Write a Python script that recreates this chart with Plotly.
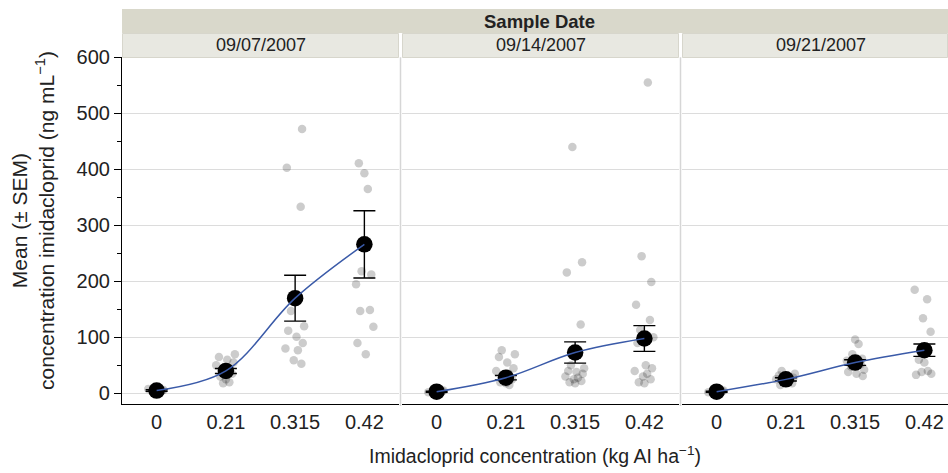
import plotly.graph_objects as go

# ---------------- data ----------------
doses = ["0", "0.21", "0.315", "0.42"]
dates = ["09/07/2007", "09/14/2007", "09/21/2007"]

mean_0907 = [5, 40, 170, 266]
sem_0907 = [1.5, 4.5, 41, 60]
mean_0914 = [3, 28, 73, 98]
sem_0914 = [1, 4, 19, 23]
mean_0921 = [3, 25, 55, 77]
sem_0921 = [1, 3, 5, 11]

raw_0907 = [
    [2, 4, 6, 8, 5, 3],
    [70, 65, 60, 55, 50, 45, 40, 35, 30, 25, 20, 18],
    [472, 403, 333, 147, 120, 112, 101, 90, 80, 77, 59, 53],
    [411, 393, 365, 218, 212, 195, 149, 147, 119, 90, 70],
]
raw_0914 = [
    [1, 3, 5, 2, 4],
    [77, 70, 65, 55, 45, 40, 35, 30, 25, 20, 18, 15],
    [440, 234, 216, 123, 50, 45, 40, 38, 35, 30, 28, 25, 22, 20, 18],
    [555, 245, 199, 158, 131, 113, 100, 90, 50, 45, 40, 35, 30, 25, 20, 18],
]
raw_0921 = [
    [1, 3, 5, 2, 4],
    [40, 35, 32, 30, 28, 25, 22, 20, 18, 15],
    [96, 88, 70, 62, 58, 52, 48, 42, 38, 35, 31],
    [185, 168, 134, 110, 60, 55, 40, 38, 35, 33],
]

# horizontal jitter (category units)
jitter = [0.05, -0.04, 0.1, -0.12, 0.08, -0.06, 0.13, -0.1, 0.02, 0.11, -0.14, 0.04,
          -0.02, 0.09, -0.08, 0.0]

means = [mean_0907, mean_0914, mean_0921]
sems = [sem_0907, sem_0914, sem_0921]
raws = [raw_0907, raw_0914, raw_0921]

# ---------------- layout helpers ----------------
W, H = 948, 473
FONT = "Liberation Sans, Arial, Helvetica, sans-serif"
TXT = "#222222"
TICK_SIZE = 20
TITLE_SIZE = 19.5


def px(x):
    return x / W


def py(y):
    return 1 - y / H


panel_px = [(122, 399), (402, 679), (682, 948)]
unit = 69.25
plot_top, plot_bot = 57.3, 404

fig = go.Figure()

for i in range(3):
    xa = "x" if i == 0 else f"x{i+1}"
    ya = "y" if i == 0 else f"y{i+1}"
    xs, ys = [], []
    k = 0
    for d, vals in enumerate(raws[i]):
        for v in vals:
            xs.append(d + jitter[k % len(jitter)])
            ys.append(v)
            k += 1
    fig.add_trace(go.Scatter(
        x=xs, y=ys, mode="markers", xaxis=xa, yaxis=ya,
        marker=dict(size=8.5, color="rgba(0,0,0,0.2)", line=dict(width=0)),
        hoverinfo="skip", showlegend=False))
    fig.add_trace(go.Scatter(
        x=list(range(4)), y=means[i], mode="markers", xaxis=xa, yaxis=ya,
        marker=dict(size=16.5, color="black"),
        error_y=dict(type="data", array=sems[i], color="black", thickness=1.4, width=11),
        showlegend=False))
    fig.add_trace(go.Scatter(
        x=list(range(4)), y=means[i], mode="lines", xaxis=xa, yaxis=ya,
        line=dict(color="#3a5aa8", width=1.5, shape="spline", smoothing=1.0),
        hoverinfo="skip", showlegend=False))

layout = dict(
    width=W, height=H, margin=dict(l=0, r=0, t=0, b=0, autoexpand=False),
    paper_bgcolor="white", plot_bgcolor="white",
    font=dict(family=FONT, size=18, color=TXT),
    showlegend=False,
)

ydom = [py(plot_bot), py(plot_top)]
for i in range(3):
    x0, x1 = panel_px[i]
    width_units = (x1 - x0) / unit
    xr = [-0.5, -0.5 + width_units]
    xkey = "xaxis" if i == 0 else f"xaxis{i+1}"
    ykey = "yaxis" if i == 0 else f"yaxis{i+1}"
    layout[xkey] = dict(
        domain=[px(x0), px(x1)], range=xr, anchor="y" if i == 0 else f"y{i+1}",
        tickmode="array", tickvals=list(range(4)), ticktext=doses,
        showline=True, linecolor="black", linewidth=1.2, ticks="",
        showgrid=False, zeroline=False, automargin=False,
        tickfont=dict(size=TICK_SIZE, color=TXT, family=FONT),
    )
    yd = dict(
        domain=ydom, range=[-19, 600], anchor="x" if i == 0 else f"x{i+1}",
        tickmode="array", tickvals=[0, 100, 200, 300, 400, 500, 600],
        showgrid=True, gridcolor="#dcdcdc", gridwidth=1.3, zeroline=False,
        automargin=False,
    )
    if i == 0:
        yd.update(showline=True, linecolor="black", linewidth=1.2,
                  ticks="outside", ticklen=7, tickcolor="black", tickwidth=1,
                  tickfont=dict(size=TICK_SIZE, color=TXT, family=FONT),
                  minor=dict(dtick=50, tick0=0, ticks="outside", ticklen=4,
                             tickcolor="black", tickwidth=1, showgrid=False))
    else:
        yd.update(showline=False, showticklabels=False, ticks="", matches="y")
    layout[ykey] = yd

fig.update_layout(**layout)

shapes = []
for xsep in [400.5, 680.5]:
    shapes.append(dict(type="line", xref="paper", yref="paper",
                       x0=px(xsep), x1=px(xsep), y0=py(406), y1=py(plot_top),
                       line=dict(color="#d6d6d6", width=1.5)))
shapes.append(dict(type="rect", xref="paper", yref="paper",
                   x0=px(122), x1=px(948), y0=py(33), y1=py(9),
                   fillcolor="#d9d8cb", line=dict(width=0), layer="above"))
for (x0, x1) in panel_px:
    shapes.append(dict(type="rect", xref="paper", yref="paper",
                       x0=px(x0 + 0.5), x1=px(x1 - 0.5), y0=py(57.5), y1=py(33.5),
                       fillcolor="#e8e8e1", line=dict(color="#d7d6cc", width=1),
                       layer="above"))
fig.update_layout(shapes=shapes)

ann = []
ann.append(dict(text="<b>Sample Date</b>", x=px(539), y=py(21), xref="paper", yref="paper",
                showarrow=False, xanchor="center", yanchor="middle",
                font=dict(size=18.5, color=TXT, family=FONT)))
for (x0, x1), d in zip(panel_px, dates):
    cx = (x0 + x1) / 2 if x1 < 948 else x0 + 277 / 2
    ann.append(dict(text=d, x=px(cx), y=py(45.5), xref="paper", yref="paper",
                    showarrow=False, xanchor="center", yanchor="middle",
                    font=dict(size=18, color=TXT, family=FONT)))
ann.append(dict(text="Imidacloprid concentration (kg AI ha<sup>\u22121</sup>)",
                x=px(535), y=py(455), xref="paper", yref="paper",
                showarrow=False, xanchor="center", yanchor="middle",
                font=dict(size=TITLE_SIZE, color=TXT, family=FONT)))
ann.append(dict(text="Mean (\u00b1 SEM)<br>concentration imidacloprid (ng mL<sup>\u22121</sup>)",
                x=px(33), y=py(221), xref="paper", yref="paper",
                showarrow=False, xanchor="center", yanchor="middle", textangle=-90,
                font=dict(size=21, color=TXT, family=FONT)))
fig.update_layout(annotations=ann)

fig.write_html("out.html")
